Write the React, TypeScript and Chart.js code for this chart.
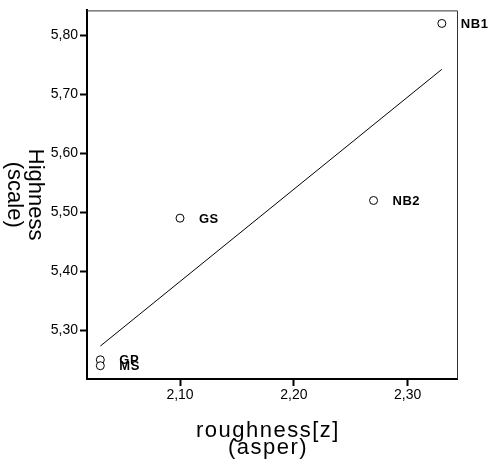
import { useEffect, useRef } from "react";
import { Chart, registerables } from "chart.js";

Chart.register(...registerables);

// Samples: roughness (asper) vs. highness (scale)
const sampleNames = ["GP", "MS", "GS", "NB2", "NB1"];
const roughness = [2.03, 2.03, 2.1, 2.27, 2.33];
const highness = [5.25, 5.24, 5.49, 5.52, 5.82];

const xTicks = [2.1, 2.2, 2.3];
const yTicks = [5.3, 5.4, 5.5, 5.6, 5.7, 5.8];

const xTitle = ["roughness[z]", "(asper)"];
const yTitle = ["Highness", "(scale)"];

// Least-squares fit of highness on roughness, spanning the observed roughness range
function fitLine(xs: number[], ys: number[]) {
  const n = xs.length;
  const mx = xs.reduce((s, v) => s + v, 0) / n;
  const my = ys.reduce((s, v) => s + v, 0) / n;
  let sxy = 0;
  let sxx = 0;
  for (let i = 0; i < n; i++) {
    sxy += (xs[i] - mx) * (ys[i] - my);
    sxx += (xs[i] - mx) * (xs[i] - mx);
  }
  const b = sxy / sxx;
  const a = my - b * mx;
  const x0 = Math.min(...xs);
  const x1 = Math.max(...xs);
  return [
    { x: x0, y: a + b * x0 },
    { x: x1, y: a + b * x1 },
  ];
}

const fmt = (v: number) => v.toFixed(2).replace(".", ",");

const FONT = "'Liberation Sans', Arial, sans-serif";

const decorPlugin = {
  id: "decor",
  afterDraw(chart: any) {
    const { ctx, chartArea: a } = chart;
    ctx.save();

    // thin top and right frame lines
    ctx.strokeStyle = "#333";
    ctx.lineWidth = 1;
    ctx.beginPath();
    ctx.moveTo(a.left, a.top + 0.5);
    ctx.lineTo(a.right + 0.5, a.top + 0.5);
    ctx.lineTo(a.right + 0.5, a.bottom);
    ctx.stroke();

    // sample labels beside each point
    const meta = chart.getDatasetMeta(0);
    ctx.fillStyle = "#000";
    ctx.font = `bold 13px ${FONT}`;
    ctx.textAlign = "left";
    ctx.textBaseline = "middle";
    (ctx as any).letterSpacing = "0.5px";
    meta.data.forEach((el: any, i: number) => {
      ctx.fillText(sampleNames[i], el.x + 19, el.y + 1);
    });

    // x axis title (two lines)
    ctx.font = `22px ${FONT}`;
    (ctx as any).letterSpacing = "1.5px";
    ctx.textAlign = "center";
    ctx.textBaseline = "alphabetic";
    const cx = (a.left + a.right) / 2 - 4;
    ctx.fillText(xTitle[0], cx, a.bottom + 58);
    ctx.fillText(xTitle[1], cx, a.bottom + 75);

    // y axis title, rotated clockwise
    (ctx as any).letterSpacing = "0px";
    const cy = (a.top + a.bottom) / 2;
    ctx.translate(29, cy);
    ctx.rotate(Math.PI / 2);
    ctx.fillText(yTitle[0], 0, 0);
    ctx.fillText(yTitle[1], 0, 21);

    ctx.restore();
  },
};

export default function App() {
  const canvasRef = useRef<HTMLCanvasElement | null>(null);

  useEffect(() => {
    const canvas = canvasRef.current;
    if (!canvas) return;

    const points = roughness.map((x, i) => ({ x, y: highness[i] }));
    const fit = fitLine(roughness, highness);

    const tickGrid = {
      display: true,
      drawOnChartArea: false,
      drawTicks: true,
      tickLength: 7,
      tickWidth: 2,
      tickColor: "#000",
      color: "#000",
    };

    const chart = new Chart(canvas, {
      type: "scatter",
      data: {
        datasets: [
          {
            data: points,
            pointRadius: 4,
            pointHoverRadius: 4,
            pointBorderWidth: 1,
            pointBackgroundColor: "#fff",
            pointBorderColor: "#000",
            showLine: false,
            clip: false,
          },
          {
            data: fit,
            showLine: true,
            borderColor: "#000",
            borderWidth: 1,
            pointRadius: 0,
            pointHoverRadius: 0,
            fill: false,
          },
        ],
      },
      plugins: [decorPlugin],
      options: {
        responsive: false,
        animation: false,
        devicePixelRatio: 1,
        layout: { padding: { top: 8, right: 34, bottom: 0, left: 0 } },
        plugins: {
          legend: { display: false },
          tooltip: { enabled: false },
        },
        scales: {
          x: {
            type: "linear",
            min: 2.0183,
            max: 2.3433,
            border: { display: true, width: 2, color: "#000" },
            grid: tickGrid,
            afterBuildTicks: (scale: any) => {
              scale.ticks = xTicks.map((value) => ({ value }));
            },
            afterFit: (scale: any) => {
              scale.height = 83;
            },
            ticks: {
              color: "#000",
              padding: 1,
              font: { family: FONT, size: 14 },
              callback: (v: any) => fmt(Number(v)),
              maxRotation: 0,
            },
          },
          y: {
            type: "linear",
            min: 5.2175,
            max: 5.8421,
            border: { display: true, width: 2, color: "#000" },
            grid: tickGrid,
            afterBuildTicks: (scale: any) => {
              scale.ticks = yTicks.map((value) => ({ value }));
            },
            afterFit: (scale: any) => {
              scale.width = 87;
            },
            ticks: {
              color: "#000",
              padding: 2,
              font: { family: FONT, size: 14 },
              callback: (v: any) => fmt(Number(v)),
            },
          },
        },
      },
    });

    return () => chart.destroy();
  }, []);

  return (
    <div style={{ position: "absolute", left: 0, top: 0, width: 491, height: 462, background: "#fff" }}>
      <canvas ref={canvasRef} width={491} height={462} />
    </div>
  );
}
